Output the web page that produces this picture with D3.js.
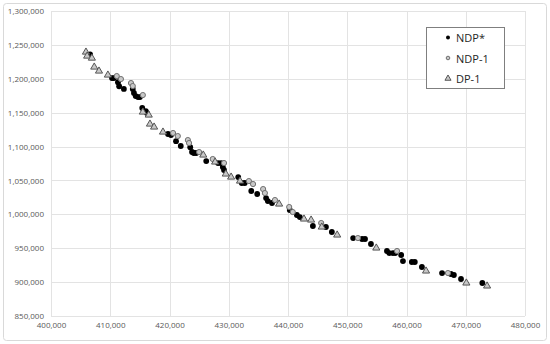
<!DOCTYPE html>
<html>
<head>
<meta charset="utf-8">
<script src="https://cdn.jsdelivr.net/npm/d3@7"></script>
<style>
  body { margin: 0; background: #fff; }
  svg text { font-family: "Open Sans", "Liberation Sans", sans-serif; }
</style>
</head>
<body>
<div id="chart"></div>
<script>
// data: [x, y]
const ndpStar = [
  [406600, 1236000], [410300, 1201000], [410600, 1201000], [411300, 1195000],
  [411500, 1189000], [412300, 1185000], [413800, 1185000], [414000, 1179000],
  [414300, 1174500], [414700, 1173000], [415000, 1173000], [415400, 1157000],
  [416000, 1152400], [416200, 1149400], [419750, 1118500], [420250, 1117000],
  [421100, 1108000], [421900, 1100800], [423500, 1099000], [423800, 1092000],
  [424100, 1090500], [424500, 1090500], [426200, 1078600], [428200, 1075700],
  [428700, 1075700], [429000, 1069800], [429200, 1065400], [431600, 1055000],
  [432200, 1046200], [432700, 1046200], [433800, 1034400], [434800, 1030000],
  [436300, 1024000], [436600, 1019600], [437300, 1016700], [440300, 1006400],
  [441500, 999000], [442000, 996000], [444200, 982800], [446400, 981300],
  [447400, 973900], [451000, 965000], [452500, 963600], [453000, 963600],
  [454000, 956200], [456700, 945900], [457100, 942900], [457700, 942900],
  [458100, 942900], [459100, 940000], [459400, 931100], [460900, 929700],
  [461400, 929700], [462600, 922300], [466000, 913400], [467500, 912000],
  [468000, 910500], [469200, 904600], [472800, 898700]
];
const ndp1 = [
  [411100, 1204000], [411800, 1199600], [413500, 1193700], [413800, 1189300],
  [415500, 1176000], [420600, 1120000], [421400, 1115500], [423100, 1109600],
  [423300, 1105200], [425000, 1091900], [427300, 1081600], [429200, 1075700],
  [433400, 1049100], [434100, 1044700], [435800, 1037300], [436100, 1031400],
  [437800, 1021100], [440200, 1010800], [440800, 1003400], [445600, 987200],
  [451800, 965000], [458400, 945900], [467000, 913400]
];
const dp1 = [
  [405900, 1239400], [406100, 1233500], [406900, 1230500], [407300, 1217300],
  [408100, 1211400], [409600, 1205500], [415500, 1150900], [416500, 1146500],
  [416700, 1133200], [417400, 1128800], [418900, 1121400], [425700, 1087500],
  [427700, 1077200], [429500, 1059500], [430400, 1055000], [431900, 1049100],
  [438500, 1015200], [442700, 993100], [443900, 991600], [445700, 981300],
  [448300, 969500], [454900, 950300], [463300, 916400], [470100, 898700],
  [473600, 894300]
];
const xTicks = [400000, 410000, 420000, 430000, 440000, 450000, 460000, 470000, 480000];
const yTicks = [850000, 900000, 950000, 1000000, 1050000, 1100000, 1150000, 1200000, 1250000, 1300000];
const seriesNames = ["NDP*", "NDP-1", "DP-1"];

const W = 550, H = 344;
const margin = {left: 51, right: 25, top: 11, bottom: 28};

const svg = d3.select("#chart").append("svg")
  .attr("width", W).attr("height", H);

// outer chart border
svg.append("rect")
  .attr("x", 3.5).attr("y", 3.5)
  .attr("width", W - 7).attr("height", H - 7)
  .attr("rx", 3)
  .attr("fill", "#fff")
  .attr("stroke", "#d9d9d9");

const x = d3.scaleLinear().domain([400000, 480000]).range([margin.left, W - margin.right]);
const y = d3.scaleLinear().domain([850000, 1300000]).range([H - margin.bottom, margin.top]);
const fmt = d3.format(",");

// grid
const grid = svg.append("g");
grid.selectAll(".vx").data(xTicks).enter().append("line")
  .attr("x1", d => Math.round(x(d)) + 0.5).attr("x2", d => Math.round(x(d)) + 0.5)
  .attr("y1", y(1300000)).attr("y2", y(850000))
  .attr("stroke", "#e3e3e3");
grid.selectAll(".hy").data(yTicks).enter().append("line")
  .attr("x1", x(400000)).attr("x2", x(480000))
  .attr("y1", d => Math.round(y(d)) + 0.5).attr("y2", d => Math.round(y(d)) + 0.5)
  .attr("stroke", "#e3e3e3");

// axes (labels only, lines are the grid)
const xAxis = svg.append("g")
  .attr("transform", `translate(0,${y(850000)})`)
  .call(d3.axisBottom(x).tickValues(xTicks).tickFormat(fmt).tickSize(0).tickPadding(6));
const yAxis = svg.append("g")
  .attr("transform", `translate(${x(400000)},0)`)
  .call(d3.axisLeft(y).tickValues(yTicks).tickFormat(fmt).tickSize(0).tickPadding(7));
[xAxis, yAxis].forEach(a => {
  a.select(".domain").remove();
  a.selectAll("text").attr("fill", "#595959").style("font-size", "8px");
});

// series
const tri = d3.symbol().type(d3.symbolTriangle);

svg.append("g").selectAll("circle").data(ndpStar).enter().append("circle")
  .attr("cx", d => x(d[0])).attr("cy", d => y(d[1]))
  .attr("r", 2.9)
  .attr("fill", "#000");

svg.append("g").selectAll("circle").data(ndp1).enter().append("circle")
  .attr("cx", d => x(d[0])).attr("cy", d => y(d[1]))
  .attr("r", 2.6)
  .attr("fill", "#c8c8c8")
  .attr("stroke", "#707070")
  .attr("stroke-width", 1);

svg.append("g").selectAll("path").data(dp1).enter().append("path")
  .attr("d", tri.size(22)())
  .attr("transform", d => `translate(${x(d[0])},${y(d[1])})`)
  .attr("fill", "#c8c8c8")
  .attr("stroke", "#555")
  .attr("stroke-width", 1);

// legend
const legend = svg.append("g").attr("transform", "translate(426,27)");
legend.append("rect")
  .attr("x", 0.5).attr("y", 0.5)
  .attr("width", 78).attr("height", 61)
  .attr("fill", "#fff")
  .attr("stroke", "#7f7f7f");

const items = legend.selectAll(".item").data(seriesNames).enter().append("g")
  .attr("transform", (d, i) => `translate(22,${10.5 + i * 20.5})`);

items.each(function(d, i) {
  const g = d3.select(this);
  if (i === 0) {
    g.append("circle").attr("r", 2).attr("fill", "#000");
  } else if (i === 1) {
    g.append("circle").attr("r", 1.8).attr("fill", "#c8c8c8").attr("stroke", "#707070");
  } else {
    g.append("path").attr("d", tri.size(16)()).attr("fill", "#c8c8c8").attr("stroke", "#555");
  }
});
items.append("text")
  .attr("x", 8).attr("y", 0)
  .attr("dominant-baseline", "central")
  .attr("fill", "#262626")
  .style("font-size", "11px")
  .text(d => d);
</script>
</body>
</html>
